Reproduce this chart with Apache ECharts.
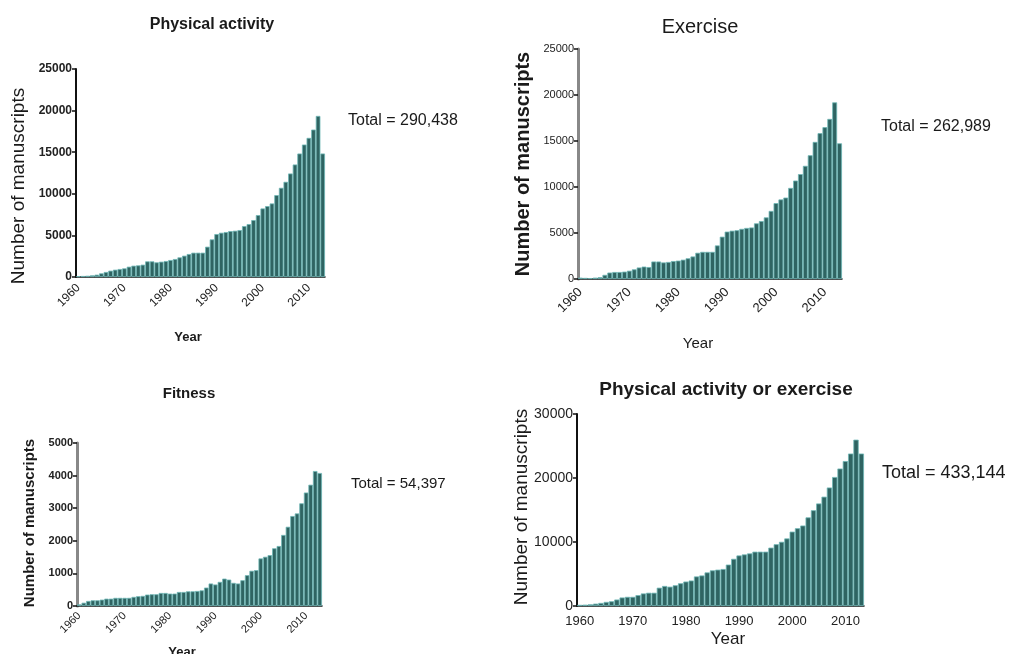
<!DOCTYPE html>
<html>
<head>
<meta charset="utf-8">
<script src="https://cdn.jsdelivr.net/npm/echarts@6/dist/echarts.min.js"></script>
<style>
  html, body { margin: 0; padding: 0; background: #fff; }
  #chart { width: 1011px; height: 654px; }
</style>
</head>
<body>
<div id="chart"></div>
<script>
// years 1960 .. 2013
var years = [];
for (var y = 1960; y <= 2013; y++) years.push(String(y));

// manuscripts per year
var physicalActivity = [100, 120, 150, 200, 280, 440, 600, 760, 880, 960,
  1040, 1240, 1360, 1400, 1480, 1880, 1880, 1760, 1840, 1920,
  2040, 2160, 2360, 2560, 2760, 2920, 2920, 2920, 3640, 4520,
  5160, 5320, 5400, 5520, 5560, 5640, 6120, 6360, 6840, 7440,
  8240, 8520, 8840, 9840, 10720, 11440, 12440, 13520, 14840, 15920,
  16720, 17720, 19360, 14840];
var exercise = [150, 120, 100, 150, 200, 450, 700, 760, 760, 800,
  900, 1050, 1250, 1350, 1300, 1900, 1900, 1800, 1850, 1950,
  2000, 2100, 2250, 2450, 2850, 2950, 2950, 2950, 3650, 4600,
  5150, 5250, 5300, 5450, 5550, 5600, 6050, 6300, 6700, 7400,
  8250, 8650, 8850, 9900, 10700, 11400, 12300, 13450, 14900, 15850,
  16500, 17400, 19200, 14750];
var fitness = [50, 100, 155, 175, 175, 195, 225, 225, 250, 250,
  250, 250, 280, 300, 310, 350, 360, 360, 400, 400,
  380, 380, 430, 430, 450, 450, 460, 480, 565, 690,
  660, 740, 840, 810, 710, 690, 790, 945, 1080, 1100,
  1460, 1510, 1560, 1770, 1840, 2180, 2430, 2760, 2840, 3150,
  3480, 3720, 4140, 4080];
var paOrExercise = [180, 210, 265, 370, 480, 640, 740, 1010, 1330, 1430,
  1430, 1700, 1960, 2070, 2070, 2860, 3130, 3020, 3240, 3550,
  3820, 3980, 4620, 4770, 5250, 5570, 5680, 5780, 6470, 7370,
  7900, 8060, 8220, 8490, 8490, 8490, 9120, 9650, 10030, 10560,
  11620, 12150, 12570, 13850, 14960, 16020, 17080, 18510, 20160, 21480,
  22650, 23820, 25990, 23820];

var titles = ['Physical activity', 'Exercise', 'Fitness', 'Physical activity or exercise'];
var totals = ['Total = 290,438', 'Total = 262,989', 'Total = 54,397', 'Total = 433,144'];
var yMax = [25000, 25000, 5000, 30000];
var yStep = [5000, 5000, 1000, 10000];

var FONT = '"Liberation Sans", Arial, sans-serif';

// layout / style per panel
var panels = [
  { grid: { left: 76, top: 69, width: 249, height: 208 }, yLine: '#111', yLineW: 2, yLab: 12, yBold: 'bold', xLab: 12, rot: 45, xMargin: 9,
    title: [212, 25, 'bold 16px'], name: [19, 186, '19px'], year: [188, 337, 'bold 13px'], total: [348, 121, '16px'] },
  { grid: { left: 578, top: 49, width: 264, height: 230 }, yLine: '#888', yLineW: 3, yLab: 11, yBold: 'normal', xLab: 13, rot: 45, xMargin: 11,
    title: [700, 27, '20px'], name: [523, 164, 'bold 20px'], year: [698, 344, '15px'], total: [881, 127, '16px'] },
  { grid: { left: 77, top: 443, width: 245, height: 163 }, yLine: '#888', yLineW: 3, yLab: 11, yBold: 'bold', xLab: 11, rot: 45, xMargin: 8,
    title: [189, 394, 'bold 15px'], name: [30, 523, 'bold 15px'], year: [182, 652, 'bold 13px'], total: [351, 484, '15px'] },
  { grid: { left: 577, top: 414, width: 287, height: 192 }, yLine: '#111', yLineW: 2, yLab: 14, yBold: 'normal', xLab: 13, rot: 0, xMargin: 9,
    title: [726, 390, 'bold 19px'], name: [522, 507, '19px'], year: [728, 639, '17px'], total: [882, 473, '18px'] }
];
var seriesData = [physicalActivity, exercise, fitness, paOrExercise];

var chart = echarts.init(document.getElementById('chart'));

var grids = [], xAxes = [], yAxes = [], series = [], graphics = [];
panels.forEach(function (p, i) {
  grids.push(p.grid);
  xAxes.push({
    type: 'category', gridIndex: i, data: years,
    axisLine: { lineStyle: { color: '#111', width: 1.5 } },
    axisTick: { alignWithLabel: true, interval: 9, length: 4, lineStyle: { color: '#111', width: 1.5 } },
    axisLabel: { interval: 9, rotate: p.rot, margin: p.xMargin, color: '#222', fontSize: p.xLab, fontFamily: FONT }
  });
  yAxes.push({
    type: 'value', gridIndex: i, min: 0, max: yMax[i], interval: yStep[i],
    splitLine: { show: false },
    axisLine: { show: true, lineStyle: { color: p.yLine, width: p.yLineW } },
    axisTick: { show: true, length: 4, lineStyle: { color: '#111', width: 1.5 } },
    axisLabel: {
      margin: 4, color: '#222', fontSize: p.yLab, fontWeight: p.yBold, fontFamily: FONT,
      formatter: function (v) { return String(v); }
    }
  });
  series.push({
    type: 'bar', xAxisIndex: i, yAxisIndex: i, data: seriesData[i],
    barCategoryGap: '0%', z: 1,
    itemStyle: { color: '#2f6462', borderColor: '#6fb8b6', borderWidth: 0.8 }
  });
  function txt(pos, text, align, rot) {
    graphics.push({
      type: 'text', x: pos[0], y: pos[1], rotation: rot || 0,
      style: {
        text: text, fill: '#1a1a1a', font: pos[2] + ' ' + FONT,
        textAlign: align, textVerticalAlign: 'middle', align: align, verticalAlign: 'middle'
      }
    });
  }
  txt(p.title, titles[i], 'center');
  txt(p.name, 'Number of manuscripts', 'center', Math.PI / 2);
  txt(p.year, 'Year', 'center');
  txt(p.total, totals[i], 'left');
});

chart.setOption({
  animation: false,
  grid: grids,
  xAxis: xAxes,
  yAxis: yAxes,
  series: series,
  graphic: graphics
});
</script>
</body>
</html>
